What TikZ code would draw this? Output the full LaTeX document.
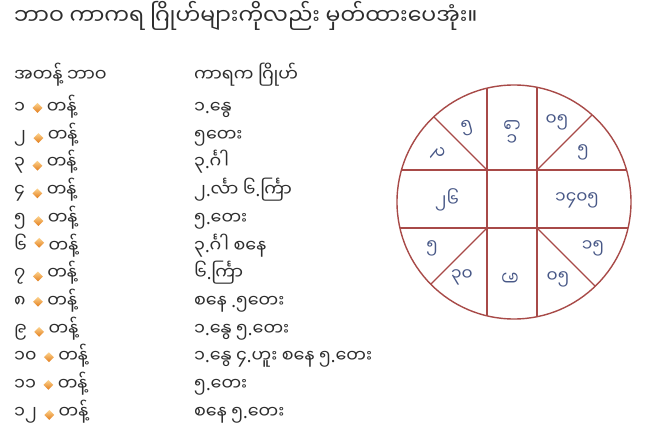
\documentclass[tikz,border=0pt]{standalone}
\usepackage{fontspec}
\newfontfamily\mm[Script=Myanmar]{Noto Sans Myanmar UI}
\newfontfamily\latn{Noto Sans}
\newcommand\dt{{\latn.}}
\usetikzlibrary{shapes.geometric,positioning}
\definecolor{ink}{RGB}{45,45,45}
\definecolor{wheel}{RGB}{168,74,72}
\definecolor{hand}{RGB}{72,88,135}
\definecolor{dialight}{RGB}{253,210,140}
\definecolor{diadark}{RGB}{226,125,28}
\tikzset{
  txt/.style={inner sep=0pt, anchor=base west, text=ink, font=\mm\fontsize{17.5}{20}\selectfont},
  headtxt/.style={txt, font=\mm\fontsize{22}{26}\selectfont},
  gem/.style={diamond, inner sep=0pt, minimum width=10pt, minimum height=10pt, top color=dialight, bottom color=diadark, draw=none},
  spoke/.style={draw=wheel, line width=1.4pt},
  hnum/.style={inner sep=0pt, text=hand, font=\mm\fontsize{17}{20}\selectfont},
}
\begin{document}
\begin{tikzpicture}[x=1pt,y=-1pt]
\useasboundingbox[fill=white] (0,0) rectangle (665,444);
% title and headers
\node[headtxt] (title) at (14,25) {ဘာဝ ကာကရ ဂြိုဟ်များကိုလည်း မှတ်ထားပေအုံး။};
\node[txt] (h1) at (14,82) {အတန့် ဘာဝ};
\node[txt] (h2) at (194,82) {ကာရက ဂြိုဟ်};
% rows
\foreach \nm/\kr [count=\i] in {
  ၁/{၁\dt နွေ},
  ၂/{၅တေး},
  ၃/{၃\dt င်္ဂါ},
  ၄/{၂\dt င်္လာ ၆\dt င်္ကြာ},
  ၅/{၅\dt တေး},
  ၆/{၃\dt င်္ဂါ စနေ},
  ၇/{၆\dt င်္ကြာ},
  ၈/{စနေ \dt ၅တေး},
  ၉/{၁\dt နွေ ၅\dt တေး},
  ၁၀/{၁\dt နွေ ၄\dt ဟူး စနေ ၅\dt တေး},
  ၁၁/{၅\dt တေး},
  ၁၂/{စနေ ၅\dt တေး}} {
  \pgfmathsetmacro\yy{108+(\i-1)*27.7}
  \node[txt] (n\i) at (14,\yy+5.5) {\nm};
  \node[gem, right=7pt of n\i] (g\i) {};
  \node[txt] (t\i) at ([xshift=4pt]g\i.east |- n\i.base) {တန့်};
  \node[txt] (k\i) at (194,\yy+5.5) {\kr};
}
% wheel
\coordinate (O) at (514,202);
\coordinate (q1) at (487,170);
\coordinate (q2) at (537,170);
\coordinate (q3) at (487,228);
\coordinate (q4) at (537,228);
\begin{scope}
  \clip (O) circle[radius=117];
  \draw[spoke] (q1) ++(0,-200) -- ++(0,400);
  \draw[spoke] (q2) ++(0,-200) -- ++(0,400);
  \draw[spoke] (q1) ++(-200,0) -- ++(400,0);
  \draw[spoke] (q3) ++(-200,0) -- ++(400,0);
  \draw[spoke] (q1) -- ++(-150,-150);
  \draw[spoke] (q2) -- ++(150,-150);
  \draw[spoke] (q3) -- ++(-150,150);
  \draw[spoke] (q4) -- ++(150,150);
\end{scope}
\draw[spoke] (O) circle[radius=117];
% wheel labels
\node[hnum, rotate=15] (c1) at (467,128) {၅};
\node[hnum, rotate=-70] (c2) at (437,153) {၃};
\node[hnum, rotate=90] (c3) at (512,125) {၅};
\node[hnum] (c4) at (512,140) {၁};
\node[hnum] (c5) at (557,122) {၀၅};
\node[hnum] (c6) at (583,152) {၅};
\node[hnum] (c7) at (447,200) {၂၆};
\node[hnum] (c8) at (577,200) {၁၄၀၅};
\node[hnum] (c9) at (432,248) {၅};
\node[hnum] (c10) at (462,277) {၃၀};
\node[hnum, rotate=90] (c11) at (512,278) {၆};
\node[hnum] (c12) at (558,279) {၀၅};
\node[hnum] (c13) at (593,248) {၁၅};
\end{tikzpicture}
\end{document}
